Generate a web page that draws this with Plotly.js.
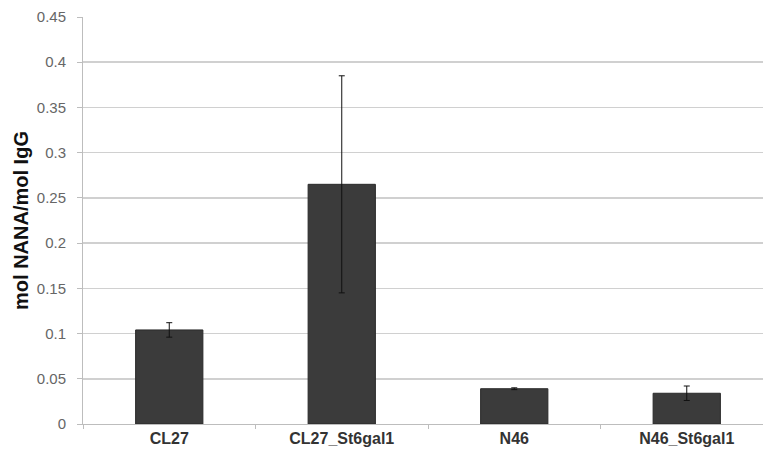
<!DOCTYPE html>
<html>
<head>
<meta charset="utf-8">
<script src="https://cdn.plot.ly/plotly-3.0.1.min.js"></script>
<style>
html,body{margin:0;padding:0;overflow:hidden;background:#fff;width:763px;height:458px;}
#chart{width:780px;height:458px;}
</style>
</head>
<body>
<div id="chart"></div>
<script>
var categories = ["CL27", "CL27_St6gal1", "N46", "N46_St6gal1"];
var values = [0.104, 0.265, 0.039, 0.034];
var errors = [0.008, 0.120, 0.001, 0.008];
var yTickVals = [0, 0.05, 0.1, 0.15, 0.2, 0.25, 0.3, 0.35, 0.4, 0.45];
var yTickText = ["0", "0.05", "0.1", "0.15", "0.2", "0.25", "0.3", "0.35", "0.4", "0.45"];

var trace = {
  type: "bar",
  x: categories,
  y: values,
  marker: {color: "#3b3b3b", line: {color: "#2a2a2a", width: 1}},
  error_y: {type: "data", array: errors, visible: true, color: "#111111", thickness: 1, width: 3}
};

var layout = {
  width: 780, height: 458,
  margin: {l: 83, r: 7, t: 17, b: 34},
  paper_bgcolor: "#ffffff", plot_bgcolor: "#ffffff",
  font: {family: "Liberation Sans, Arial, sans-serif"},
  bargap: 0.61,
  showlegend: false,
  xaxis: {
    range: [-0.5, 3.5],
    showline: true, linecolor: "#bdbdbd", linewidth: 1,
    ticks: "outside", tickson: "boundaries", ticklen: 4, tickcolor: "#bdbdbd",
    tickfont: {size: 16, color: "#333333", family: "Liberation Sans, Arial, sans-serif", weight: "bold"},
    showgrid: false, zeroline: false
  },
  yaxis: {
    range: [0, 0.45],
    tickvals: yTickVals, ticktext: yTickText,
    showgrid: true, gridcolor: "#d0d0d0", gridwidth: 1.5,
    showline: true, linecolor: "#bdbdbd", linewidth: 1,
    ticks: "outside", ticklen: 5, tickcolor: "#bdbdbd",
    tickfont: {size: 15, color: "#666666"},
    ticklabelstandoff: 8,
    zeroline: false,
    title: {text: "mol NANA/mol IgG", font: {size: 20, color: "#111111", weight: "bold"}, standoff: 2}
  }
};

Plotly.newPlot("chart", [trace], layout, {displayModeBar: false, staticPlot: true});
</script>
</body>
</html>
